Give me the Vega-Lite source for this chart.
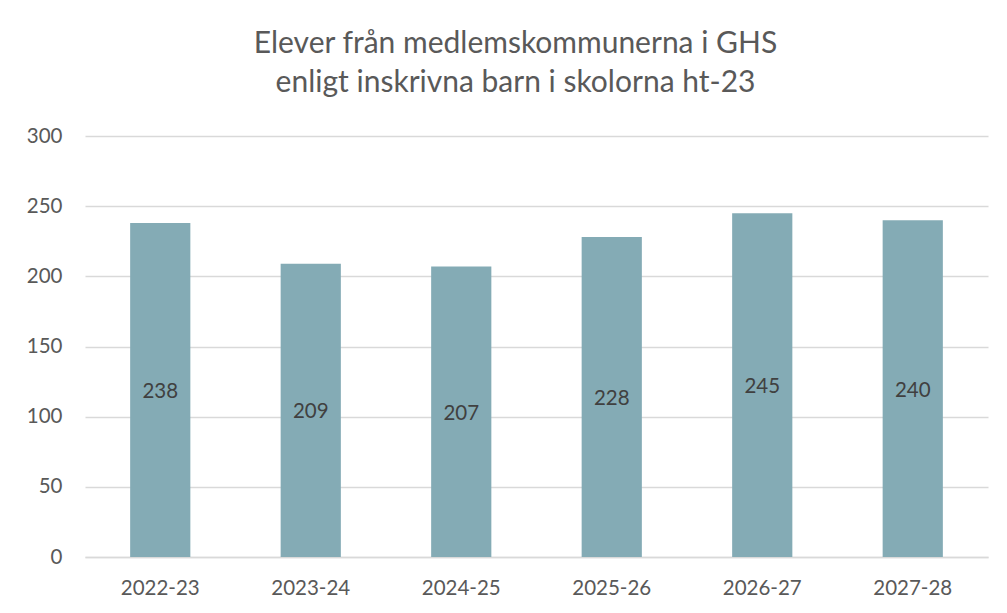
{
  "$schema": "https://vega.github.io/schema/vega-lite/v6.json",
  "width": 903,
  "height": 421,
  "autosize": "none",
  "padding": {"left": 85, "top": 136, "right": 19, "bottom": 56},
  "background": "white",
  "title": {
    "text": ["Elever från medlemskommunerna i GHS", "enligt inskrivna barn i skolorna ht-23"],
    "font": "Lato",
    "fontSize": 30,
    "fontWeight": "normal",
    "color": "#595959",
    "lineHeight": 39,
    "anchor": "middle",
    "dx": -21,
    "offset": 28
  },
  "config": {"view": {"stroke": null}},
  "data": {
    "values": [
      {"year": "2022-23", "elever": 238},
      {"year": "2023-24", "elever": 209},
      {"year": "2024-25", "elever": 207},
      {"year": "2025-26", "elever": 228},
      {"year": "2026-27", "elever": 245},
      {"year": "2027-28", "elever": 240}
    ]
  },
  "encoding": {
    "x": {
      "field": "year",
      "type": "nominal",
      "sort": null,
      "title": null,
      "scale": {"paddingInner": 0.6, "paddingOuter": 0.3},
      "axis": {
        "labelAngle": 0,
        "labelFont": "Lato",
        "labelFontSize": 20.5,
        "labelColor": "#595959",
        "labelPadding": 21,
        "ticks": false,
        "domainColor": "#D9D9D9",
        "domainWidth": 1.5
      }
    }
  },
  "layer": [
    {
      "mark": {"type": "bar", "color": "#84ABB5"},
      "encoding": {
        "y": {
          "field": "elever",
          "type": "quantitative",
          "title": null,
          "scale": {"domain": [0, 300], "nice": false},
          "axis": {
            "values": [0, 50, 100, 150, 200, 250, 300],
            "labelFont": "Lato",
            "labelFontSize": 20.5,
            "labelColor": "#595959",
            "labelPadding": 23,
            "ticks": false,
            "domain": false,
            "gridColor": "#D9D9D9",
            "gridWidth": 1.5
          }
        }
      }
    },
    {
      "transform": [{"calculate": "datum.elever / 2", "as": "labelPos"}],
      "mark": {"type": "text", "font": "Lato", "fontSize": 20.5, "color": "#404040", "baseline": "middle", "dy": 2},
      "encoding": {
        "y": {"field": "labelPos", "type": "quantitative", "scale": {"domain": [0, 300], "nice": false}},
        "text": {"field": "elever", "type": "quantitative"}
      }
    }
  ]
}
